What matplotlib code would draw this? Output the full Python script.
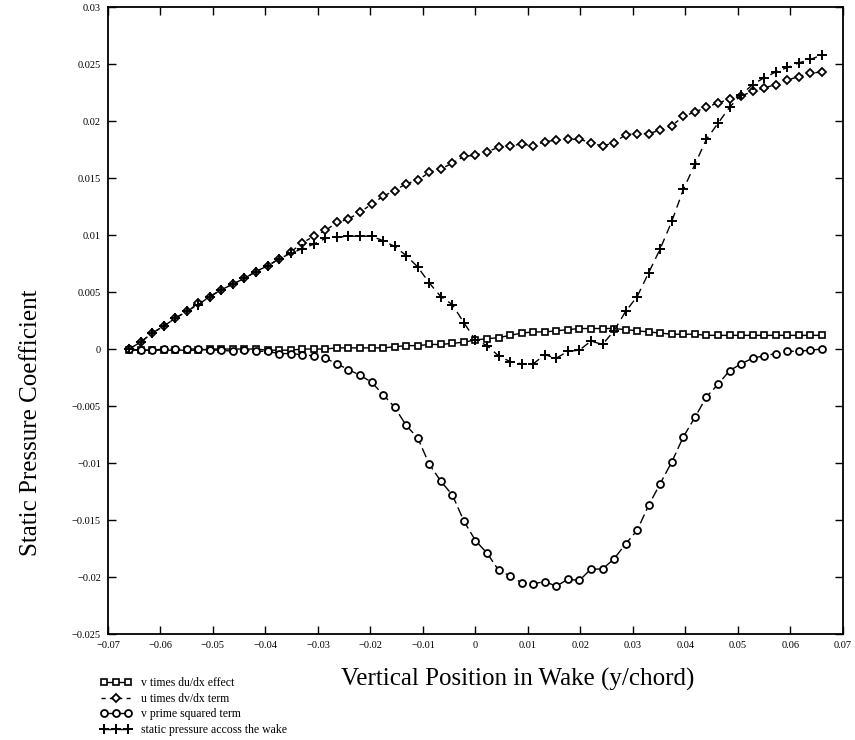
import matplotlib
matplotlib.use("Agg")
import matplotlib.pyplot as plt
from matplotlib.ticker import FuncFormatter, MultipleLocator
from matplotlib.legend_handler import HandlerLine2D

plt.rcParams['font.family'] = ['Liberation Serif', 'DejaVu Serif']

# wake positions (y/chord)
y_pos = [-0.066, -0.0638, -0.0616, -0.0594, -0.0572, -0.055, -0.0528, -0.0506, -0.0484, -0.0462,
         -0.044, -0.0418, -0.0396, -0.0374, -0.0352, -0.033, -0.0308, -0.0286, -0.0264, -0.0242,
         -0.022, -0.0198, -0.0176, -0.0154, -0.0132, -0.011, -0.0088, -0.0066, -0.0044, -0.0022,
         0.0, 0.0022, 0.0044, 0.0066, 0.0088, 0.011, 0.0132, 0.0154, 0.0176, 0.0198,
         0.022, 0.0242, 0.0264, 0.0286, 0.0308, 0.033, 0.0352, 0.0374, 0.0396, 0.0418,
         0.044, 0.0462, 0.0484, 0.0506, 0.0528, 0.055, 0.0572, 0.0594, 0.0616, 0.0638, 0.066]

# v times du/dx effect
v_dudx = [-0.0001, -0.0001, -0.0001, -0.0001, -0.0001, -0.0001, -0.0001, 0.0, 0.0, 0.0,
          0.0, 0.0, -0.0001, -0.0001, -0.0001, 0.0, 0.0, 0.0, 0.0001, 0.0001,
          0.0001, 0.0001, 0.0001, 0.0002, 0.0003, 0.0003, 0.0004, 0.0004, 0.0005, 0.0006,
          0.0008, 0.0009, 0.001, 0.0012, 0.0014, 0.0015, 0.0015, 0.0016, 0.0017, 0.0018,
          0.0018, 0.0018, 0.0018, 0.0017, 0.0016, 0.0015, 0.0014, 0.0013, 0.0013, 0.0013,
          0.0012, 0.0012, 0.0012, 0.0012, 0.0012, 0.0012, 0.0012, 0.0012, 0.0012, 0.0012, 0.0012]

# u times dv/dx term
u_dvdx = [0.0, 0.0006, 0.0014, 0.002, 0.0027, 0.0033, 0.004, 0.0046, 0.0052, 0.0057,
          0.0062, 0.0068, 0.0073, 0.0079, 0.0085, 0.0093, 0.0099, 0.0104, 0.0111, 0.0114,
          0.012, 0.0127, 0.0134, 0.0139, 0.0145, 0.0148, 0.0155, 0.0158, 0.0163, 0.0169,
          0.017, 0.0173, 0.0177, 0.0178, 0.018, 0.0178, 0.0182, 0.0183, 0.0184, 0.0184,
          0.0181, 0.0178, 0.0181, 0.0188, 0.0189, 0.0189, 0.0192, 0.0196, 0.0204, 0.0208,
          0.0212, 0.0216, 0.0219, 0.0222, 0.0226, 0.0229, 0.0232, 0.0236, 0.0239, 0.0242, 0.0243]

# v prime squared term
v_prime_sq = [0.0, -0.0001, -0.0001, 0.0, 0.0, 0.0, 0.0, -0.0001, -0.0001, -0.0002,
              -0.0001, -0.0002, -0.0002, -0.0004, -0.0004, -0.0005, -0.0006, -0.0008, -0.0013, -0.0018,
              -0.0023, -0.0029, -0.004, -0.0051, -0.0067, -0.0078, -0.0101, -0.0116, -0.0128, -0.0151,
              -0.0168, -0.0179, -0.0194, -0.0199, -0.0205, -0.0206, -0.0204, -0.0208, -0.0202, -0.0203,
              -0.0193, -0.0193, -0.0184, -0.0171, -0.0159, -0.0137, -0.0118, -0.0099, -0.0077, -0.006,
              -0.0042, -0.0031, -0.0019, -0.0013, -0.0008, -0.0006, -0.0004, -0.0002, -0.0002, -0.0001, 0.0]

# static pressure accoss the wake
static_p = [0.0, 0.0006, 0.0014, 0.002, 0.0027, 0.0033, 0.0039, 0.0046, 0.0052, 0.0057,
            0.0062, 0.0068, 0.0073, 0.0079, 0.0084, 0.0088, 0.0092, 0.0097, 0.0098, 0.0099,
            0.0099, 0.0099, 0.0095, 0.009, 0.0082, 0.0072, 0.0058, 0.0046, 0.0039, 0.0023,
            0.0008, 0.0003, -0.0006, -0.0011, -0.0013, -0.0013, -0.0005, -0.0008, -0.0002, -0.0001,
            0.0007, 0.0004, 0.0016, 0.0033, 0.0046, 0.0067, 0.0088, 0.0112, 0.014, 0.0162,
            0.0184, 0.0198, 0.0212, 0.0223, 0.0232, 0.0238, 0.0243, 0.0247, 0.0251, 0.0254, 0.0258]

labels = ["v times du/dx effect", "u times dv/dx term", "v prime squared term",
          "static pressure accoss the wake"]

fig = plt.figure(figsize=(8.55, 7.4), dpi=100)
ax = fig.add_axes([0.1263, 0.1432, 0.8596, 0.8473])

l1, = ax.plot(y_pos, v_dudx, color='black', lw=1.0, marker='s', ms=5, mfc='white',
              mec='black', mew=1.2, label=labels[0], zorder=3)
l2, = ax.plot(y_pos, u_dvdx, color='black', lw=1.0, ls=(0, (3, 3)), marker='D', ms=4,
              mfc='white', mec='black', mew=1.3, label=labels[1], zorder=3)
l3, = ax.plot(y_pos, v_prime_sq, color='black', lw=1.0, ls=(0, (7, 3)), marker='o', ms=5,
              mfc='white', mec='black', mew=1.3, label=labels[2], zorder=4)
l4, = ax.plot(y_pos, static_p, color='black', lw=1.0, ls=(0, (6, 4)), marker='+', ms=7.5,
              mew=1.4, label=labels[3], zorder=5)

ax.set_xlim(-0.07, 0.07)
ax.set_ylim(-0.025, 0.03)
ax.xaxis.set_major_locator(MultipleLocator(0.01))
ax.yaxis.set_major_locator(MultipleLocator(0.005))

def fmt(v, pos):
    v = round(v, 4)
    if v == 0:
        return "0"
    return f"{v:g}".replace("-", "\u2212")

ax.xaxis.set_major_formatter(FuncFormatter(fmt))
ax.yaxis.set_major_formatter(FuncFormatter(fmt))
ax.tick_params(direction='in', length=6, width=1.0, labelsize=7.5, top=True, right=True, pad=5)
for s in ax.spines.values():
    s.set_linewidth(1.3)

fig.text(518 / 855, 1 - 679 / 740, "Vertical Position in Wake (y/chord)", fontsize=18,
         ha='center', va='center')
fig.text(31 / 855, 1 - 423 / 740, "Static Pressure Coefficient", fontsize=18,
         ha='center', va='center', rotation=90)

ax.legend(handles=[l1, l2, l3, l4], loc='upper left', bbox_to_anchor=(0.118, 0.085),
          bbox_transform=fig.transFigure, frameon=False, fontsize=8.5, numpoints=3,
          handlelength=2.6, handletextpad=0.8, labelspacing=0.3, borderpad=0,
          borderaxespad=0, handler_map={l2: HandlerLine2D(numpoints=1)})

fig.savefig("out.png", dpi=100)
